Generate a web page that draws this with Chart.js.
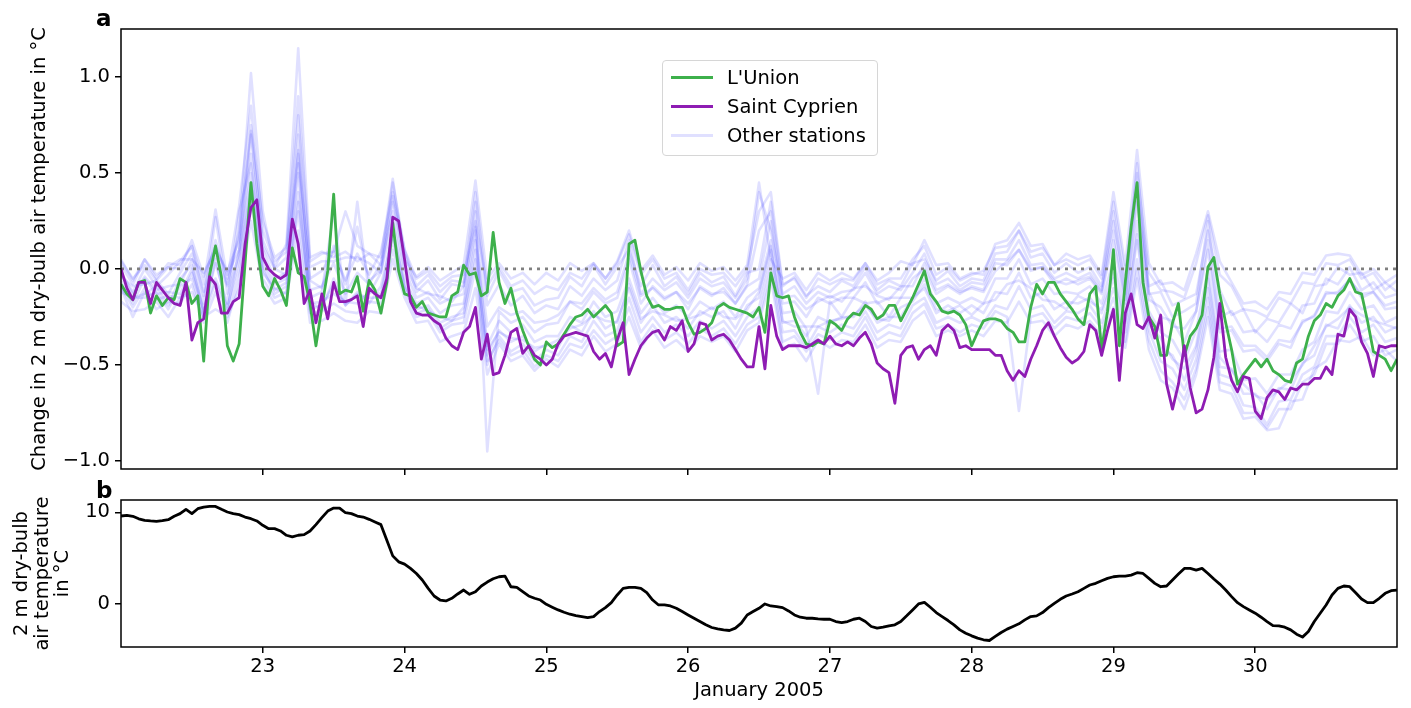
<!DOCTYPE html>
<html>
<head>
<meta charset="utf-8">
<script src="https://cdn.jsdelivr.net/npm/chart.js@4.4.1/dist/chart.umd.min.js"></script>
<style>
  html, body { margin: 0; padding: 0; background: #fff; }
  #wrap { position: relative; width: 1411px; height: 708px; font-family: 'DejaVu Sans', sans-serif; }
  #top { position: absolute; left: 0; top: 0; }
  #bottom { position: absolute; left: 0; top: 478px; }
  .panel { position: absolute; left: 96px; font-weight: bold; font-size: 23px; line-height: 26.8px; }
  #legend { position: absolute; left: 662px; top: 60px; width: 214px; height: 94px;
            border: 1px solid #d6d6d6; border-radius: 4px; background: rgba(255,255,255,0.8); }
  .row { position: absolute; left: 0; width: 100%; height: 0; }
  .sw { position: absolute; left: 8px; width: 42px; height: 3px; top: -1.5px; }
  .tx { position: absolute; left: 64px; top: -11px; font-size: 19.5px; line-height: 22.7px; white-space: nowrap; }
</style>
</head>
<body>
<div id="wrap">
  <canvas id="top" width="1411" height="490"></canvas>
  <canvas id="bottom" width="1411" height="230"></canvas>
  <div class="panel" style="top:5px">a</div>
  <div class="panel" style="top:477px">b</div>
  <div id="legend"></div>
</div>
<script>
const startDay = 22;
const dayTicks = [23, 24, 25, 26, 27, 28, 29, 30];
const changeTicks = [-1, -0.5, 0, 0.5, 1];
const tempTicks = [0, 10];

// hourly change at the two stations, 22 Jan 00:00 .. 31 Jan 00:00
const lUnion = [
  -0.08, -0.13, -0.16, -0.07, -0.06, -0.23, -0.14, -0.19, -0.15, -0.16, -0.05, -0.07, -0.18, -0.14, -0.48, -0.03, 0.12, -0.04, -0.40, -0.48, -0.39, 0.03, 0.45, 0.13,
  -0.09, -0.14, -0.05, -0.11, -0.19, 0.11, -0.02, -0.04, -0.18, -0.40, -0.20, -0.01, 0.39, -0.13, -0.11, -0.12, -0.04, -0.22, -0.06, -0.11, -0.23, -0.07, 0.24, -0.01,
  -0.13, -0.14, -0.20, -0.17, -0.23, -0.24, -0.25, -0.25, -0.14, -0.12, 0.02, -0.03, -0.02, -0.14, -0.12, 0.19, -0.07, -0.18, -0.10, -0.23, -0.32, -0.40, -0.47, -0.50,
  -0.38, -0.41, -0.39, -0.34, -0.29, -0.25, -0.24, -0.21, -0.25, -0.22, -0.19, -0.23, -0.40, -0.38, 0.13, 0.15, -0.01, -0.14, -0.20, -0.19, -0.21, -0.21, -0.20, -0.20,
  -0.28, -0.34, -0.33, -0.31, -0.28, -0.20, -0.18, -0.20, -0.21, -0.22, -0.23, -0.25, -0.20, -0.33, -0.02, -0.14, -0.15, -0.14, -0.25, -0.33, -0.39, -0.40, -0.38, -0.39,
  -0.27, -0.29, -0.32, -0.26, -0.23, -0.24, -0.19, -0.21, -0.26, -0.24, -0.19, -0.19, -0.27, -0.21, -0.15, -0.08, -0.01, -0.13, -0.17, -0.22, -0.23, -0.22, -0.24, -0.29,
  -0.40, -0.33, -0.27, -0.26, -0.26, -0.27, -0.31, -0.33, -0.38, -0.38, -0.20, -0.08, -0.13, -0.07, -0.07, -0.13, -0.17, -0.21, -0.26, -0.29, -0.13, -0.09, -0.42, -0.22,
  0.10, -0.40, -0.07, 0.22, 0.45, -0.07, -0.25, -0.30, -0.45, -0.45, -0.28, -0.18, -0.45, -0.35, -0.31, -0.24, 0.01, 0.06, -0.13, -0.28, -0.42, -0.60, -0.55, -0.51,
  -0.47, -0.51, -0.47, -0.53, -0.55, -0.58, -0.59, -0.49, -0.47, -0.35, -0.27, -0.24, -0.18, -0.20, -0.14, -0.11, -0.05, -0.12, -0.13, -0.27, -0.43, -0.45, -0.47, -0.53,
  -0.47
];
const saintCyprien = [
  0.00, -0.10, -0.16, -0.07, -0.07, -0.18, -0.07, -0.11, -0.15, -0.18, -0.19, -0.07, -0.37, -0.28, -0.26, -0.04, -0.08, -0.23, -0.23, -0.17, -0.15, 0.13, 0.32, 0.36,
  0.06, 0.00, -0.03, -0.05, -0.03, 0.26, 0.13, -0.18, -0.11, -0.28, -0.13, -0.26, -0.07, -0.17, -0.17, -0.16, -0.14, -0.30, -0.10, -0.13, -0.15, -0.05, 0.27, 0.25,
  0.05, -0.17, -0.23, -0.24, -0.24, -0.27, -0.29, -0.36, -0.40, -0.42, -0.33, -0.30, -0.20, -0.47, -0.34, -0.55, -0.54, -0.45, -0.33, -0.31, -0.44, -0.40, -0.45, -0.47,
  -0.50, -0.47, -0.39, -0.35, -0.34, -0.33, -0.34, -0.35, -0.43, -0.47, -0.44, -0.51, -0.37, -0.28, -0.55, -0.47, -0.40, -0.36, -0.33, -0.32, -0.37, -0.30, -0.32, -0.27,
  -0.43, -0.39, -0.28, -0.29, -0.37, -0.35, -0.34, -0.37, -0.42, -0.47, -0.51, -0.51, -0.30, -0.52, -0.19, -0.35, -0.42, -0.40, -0.40, -0.40, -0.41, -0.39, -0.37, -0.39,
  -0.35, -0.39, -0.40, -0.38, -0.40, -0.36, -0.33, -0.39, -0.49, -0.52, -0.54, -0.70, -0.45, -0.41, -0.40, -0.47, -0.42, -0.40, -0.45, -0.32, -0.29, -0.32, -0.41, -0.40,
  -0.42, -0.42, -0.42, -0.42, -0.45, -0.45, -0.53, -0.58, -0.53, -0.56, -0.47, -0.40, -0.32, -0.28, -0.35, -0.41, -0.46, -0.49, -0.47, -0.43, -0.29, -0.32, -0.45, -0.32,
  -0.21, -0.58, -0.23, -0.13, -0.29, -0.31, -0.25, -0.36, -0.24, -0.60, -0.73, -0.60, -0.40, -0.62, -0.75, -0.73, -0.63, -0.46, -0.18, -0.46, -0.58, -0.64, -0.56, -0.57,
  -0.74, -0.78, -0.67, -0.63, -0.64, -0.68, -0.62, -0.63, -0.60, -0.60, -0.57, -0.57, -0.51, -0.55, -0.34, -0.35, -0.21, -0.25, -0.38, -0.44, -0.56, -0.40, -0.41, -0.40,
  -0.40
];

// hourly 2 m dry-bulb temperature (°C)
const airTemp = [
  9.6, 9.67, 9.57, 9.3, 9.13, 9.06, 9.02, 9.09, 9.2, 9.57, 9.86, 10.33, 9.86, 10.4, 10.58, 10.65, 10.65, 10.33, 10.04, 9.86, 9.75, 9.49, 9.31, 9.06,
  8.59, 8.22, 8.22, 7.97, 7.5, 7.32, 7.5, 7.57, 7.97, 8.66, 9.42, 10.14, 10.47, 10.47, 9.96, 9.86, 9.6, 9.49, 9.24, 8.95, 8.66, 6.96, 5.25, 4.6,
  4.35, 3.88, 3.33, 2.61, 1.7, 0.87, 0.43, 0.33, 0.62, 1.09, 1.52, 1.05, 1.34, 1.96, 2.39, 2.75, 2.97, 3.04, 1.88, 1.81, 1.34, 0.87, 0.62, 0.43,
  -0.04, -0.35, -0.65, -0.91, -1.12, -1.27, -1.38, -1.49, -1.38, -0.83, -0.4, 0.14, 0.98, 1.7, 1.81, 1.81, 1.7, 1.23, 0.43, -0.11, -0.11, -0.22, -0.47, -0.83,
  -1.2, -1.56, -1.92, -2.28, -2.57, -2.72, -2.83, -2.9, -2.64, -2.1, -1.2, -0.83, -0.47, 0.0, -0.22, -0.29, -0.4, -0.76, -1.2, -1.45, -1.56, -1.56, -1.63, -1.67,
  -1.67, -1.92, -2.03, -1.92, -1.67, -1.56, -1.92, -2.46, -2.64, -2.54, -2.39, -2.28, -1.92, -1.3, -0.65, 0.0, 0.18, -0.36, -0.94, -1.38, -1.81, -2.28, -2.83, -3.19,
  -3.48, -3.73, -3.91, -3.99, -3.55, -3.12, -2.75, -2.46, -2.17, -1.74, -1.38, -1.3, -0.94, -0.4, 0.07, 0.51, 0.87, 1.09, 1.34, 1.7, 2.07, 2.25, 2.54, 2.79,
  2.97, 3.04, 3.04, 3.15, 3.41, 3.33, 2.79, 2.25, 1.88, 1.96, 2.61, 3.26, 3.88, 3.88, 3.7, 3.88, 3.33, 2.72, 2.17, 1.52, 0.8, 0.14, -0.29, -0.65,
  -1.01, -1.45, -1.92, -2.36, -2.39, -2.54, -2.83, -3.3, -3.62, -3.01, -1.92, -1.01, -0.11, 0.98, 1.7, 1.96, 1.88, 1.23, 0.54, 0.14, 0.14, 0.62, 1.16, 1.45,
  1.52
];

// remaining stations, every 2 hours
const stationA = [
  -0.02, -0.12, 0.00, -0.09, -0.03, 0.04, 0.12, -0.14, 0.08, -0.09, 0.18, 1.02,
  0.30, 0.00, 0.06, 0.60, -0.05, -0.01, 0.09, -0.06, 0.08, -0.03, 0.09, 0.40,
  0.10, -0.09, -0.03, -0.12, -0.06, -0.07, 0.40, -0.14, -0.01, -0.12, -0.10, -0.19,
  -0.16, -0.15, -0.04, -0.09, 0.02, -0.08, 0.01, 0.10, -0.09, 0.02, -0.09, -0.04,
  -0.13, -0.02, -0.07, -0.04, -0.14, -0.02, 0.00, 0.35, -0.09, -0.04, -0.14, -0.09,
  -0.12, -0.06, -0.09, 0.01, -0.11, -0.06, -0.09, 0.03, 0.05, -0.06, -0.01, -0.09,
  -0.05, -0.06, 0.08, 0.09, 0.20, 0.06, 0.08, -0.02, 0.03, -0.02, 0.01, -0.09,
  0.25, -0.08, 0.45, -0.09, -0.06, -0.19, -0.16, -0.13, 0.20, -0.11, -0.24, -0.21,
  -0.33, -0.26, -0.28, -0.18, -0.23, -0.09, -0.08, 0.01, -0.03, -0.02, -0.11, -0.07,
  -0.12
];
const stationB = [
  0.04, -0.05, 0.02, -0.06, 0.01, 0.00, 0.15, -0.04, 0.12, -0.03, 0.10, 0.70,
  0.15, 0.01, 0.13, 1.15, 0.06, 0.09, 0.06, 0.09, 0.04, 0.08, 0.06, 0.47,
  0.05, -0.04, 0.01, -0.06, -0.02, 0.02, 0.46, -0.05, 0.03, -0.05, -0.02, -0.08,
  -0.02, -0.06, 0.03, -0.01, 0.03, -0.05, 0.04, 0.20, -0.01, 0.07, -0.03, 0.01,
  -0.06, 0.03, -0.01, 0.01, -0.06, 0.02, 0.45, 0.05, -0.05, -0.02, -0.11, -0.02,
  -0.06, -0.02, -0.05, 0.03, -0.06, -0.02, 0.04, 0.02, 0.15, 0.02, 0.03, -0.05,
  -0.02, -0.03, 0.13, 0.15, 0.24, 0.12, 0.13, 0.02, 0.08, 0.05, 0.07, -0.03,
  0.40, 0.02, 0.62, 0.03, -0.08, -0.07, -0.11, 0.08, 0.30, 0.04, -0.07, -0.18,
  -0.17, -0.21, -0.12, -0.13, -0.02, -0.03, 0.07, 0.08, 0.07, -0.03, 0.00, -0.07,
  -0.03
];
const stationC = [
  -0.03, -0.13, -0.04, -0.11, -0.09, -0.08, 0.05, -0.18, 0.27, -0.13, 0.08, 0.60,
  0.10, -0.05, -0.02, 0.70, -0.11, -0.09, 0.03, -0.13, -0.02, -0.08, 0.03, 0.30,
  0.00, -0.15, -0.12, -0.18, -0.15, -0.13, 0.30, -0.95, -0.22, -0.28, -0.25, -0.33,
  -0.29, -0.28, -0.17, -0.21, -0.12, -0.18, -0.15, 0.05, -0.18, -0.09, -0.15, -0.12,
  -0.21, -0.09, -0.13, -0.12, -0.18, -0.09, -0.05, 0.25, -0.18, -0.17, -0.25, -0.15,
  -0.18, -0.15, -0.15, -0.07, -0.18, -0.15, -0.15, -0.05, 0.00, -0.13, -0.09, -0.13,
  -0.09, -0.11, 0.03, 0.02, 0.10, -0.01, 0.01, -0.08, -0.05, -0.08, -0.05, -0.13,
  0.15, -0.18, 0.35, -0.12, -0.25, -0.27, -0.38, -0.22, 0.10, -0.33, -0.32, -0.43,
  -0.42, -0.48, -0.39, -0.41, -0.27, -0.25, -0.12, -0.13, -0.05, -0.15, -0.12, -0.21,
  -0.20
];
const stationD = [
  -0.06, -0.18, -0.05, -0.13, -0.12, -0.13, 0.00, -0.21, 0.03, -0.18, 0.30, 0.55,
  0.05, -0.08, -0.05, 0.55, -0.15, -0.12, 0.30, -0.18, 0.35, -0.13, -0.02, 0.25,
  -0.05, -0.18, -0.15, -0.23, -0.19, -0.18, 0.20, -0.40, -0.27, -0.33, -0.29, -0.38,
  -0.35, -0.35, -0.25, -0.28, -0.17, -0.25, -0.22, -0.05, -0.23, -0.15, -0.23, -0.19,
  -0.25, -0.17, -0.21, -0.17, -0.25, -0.15, -0.10, 0.15, -0.23, -0.22, -0.31, -0.65,
  -0.17, -0.25, -0.15, -0.18, -0.17, -0.25, -0.15, -0.15, -0.05, -0.18, -0.15, -0.18,
  -0.15, -0.18, -0.05, -0.05, 0.05, -0.08, -0.05, -0.13, -0.12, -0.13, -0.09, -0.18,
  0.05, -0.23, 0.25, -0.22, -0.33, -0.37, -0.48, -0.32, 0.00, -0.43, -0.42, -0.58,
  -0.57, -0.65, -0.55, -0.55, -0.42, -0.38, -0.22, -0.23, -0.12, -0.21, -0.19, -0.28,
  -0.25
];
const stationE = [
  -0.12, -0.15, -0.15, -0.12, -0.21, -0.09, -0.05, -0.25, -0.07, -0.23, 0.00, 0.45,
  0.00, -0.13, -0.09, 0.40, -0.18, -0.17, -0.13, -0.17, -0.18, -0.12, -0.13, 0.20,
  -0.08, -0.21, -0.19, -0.28, -0.25, -0.23, 0.05, -0.45, -0.32, -0.38, -0.35, -0.43,
  -0.39, -0.41, -0.29, -0.33, -0.22, -0.31, -0.27, -0.10, -0.28, -0.19, -0.28, -0.25,
  -0.31, -0.22, -0.25, -0.22, -0.31, -0.19, -0.15, 0.10, -0.28, -0.27, -0.35, -0.25,
  -0.28, -0.25, -0.25, -0.17, -0.28, -0.25, -0.25, -0.15, -0.10, -0.23, -0.19, -0.23,
  -0.19, -0.23, -0.12, -0.13, -0.02, -0.15, -0.12, -0.21, -0.17, -0.18, -0.15, -0.23,
  -0.05, -0.28, 0.15, -0.27, -0.41, -0.45, -0.58, -0.42, -0.10, -0.51, -0.52, -0.65,
  -0.65, -0.73, -0.62, -0.63, -0.49, -0.45, -0.29, -0.31, -0.19, -0.28, -0.25, -0.33,
  -0.30
];
const stationF = [
  -0.10, -0.25, -0.12, -0.21, -0.17, -0.18, -0.08, -0.28, -0.12, -0.28, -0.05, 0.35,
  -0.05, -0.15, -0.12, 0.30, -0.23, -0.22, -0.18, -0.22, -0.23, -0.17, -0.18, 0.10,
  -0.12, -0.25, -0.23, -0.33, -0.29, -0.28, 0.00, -0.50, -0.35, -0.43, -0.39, -0.48,
  -0.42, -0.45, -0.35, -0.38, -0.27, -0.35, -0.32, -0.15, -0.33, -0.25, -0.33, -0.29,
  -0.35, -0.27, -0.31, -0.27, -0.35, -0.25, -0.20, 0.05, -0.33, -0.32, -0.41, -0.30,
  -0.33, -0.29, -0.31, -0.22, -0.33, -0.29, -0.31, -0.19, -0.15, -0.28, -0.25, -0.28,
  -0.25, -0.28, -0.19, -0.21, -0.09, -0.21, -0.19, -0.28, -0.22, -0.23, -0.19, -0.28,
  -0.10, -0.33, 0.05, -0.32, -0.48, -0.52, -0.63, -0.47, -0.15, -0.55, -0.57, -0.71,
  -0.72, -0.81, -0.69, -0.68, -0.55, -0.51, -0.35, -0.35, -0.25, -0.33, -0.29, -0.38,
  -0.36
];
const stationG = [
  -0.17, -0.22, -0.21, -0.17, -0.25, -0.15, -0.12, -0.25, -0.21, -0.25, -0.10, 0.25,
  -0.08, -0.18, -0.15, 0.20, -0.28, -0.27, -0.23, -0.27, -0.28, -0.22, -0.23, 0.05,
  -0.15, -0.28, -0.27, -0.38, -0.35, -0.33, -0.10, -0.55, -0.39, -0.48, -0.45, -0.53,
  -0.47, -0.51, -0.42, -0.45, -0.35, -0.43, -0.39, -0.25, -0.41, -0.32, -0.41, -0.37,
  -0.43, -0.35, -0.38, -0.35, -0.43, -0.32, -0.28, -0.05, -0.41, -0.39, -0.48, -0.37,
  -0.41, -0.37, -0.38, -0.29, -0.41, -0.37, -0.38, -0.27, -0.22, -0.35, -0.32, -0.35,
  -0.32, -0.35, -0.27, -0.28, -0.17, -0.28, -0.27, -0.35, -0.29, -0.31, -0.27, -0.35,
  -0.20, -0.41, -0.05, -0.42, -0.58, -0.62, -0.73, -0.55, -0.25, -0.63, -0.65, -0.78,
  -0.77, -0.84, -0.83, -0.69, -0.68, -0.52, -0.48, -0.37, -0.38, -0.35, -0.45, -0.42,
  -0.48
];
const stationH = [
  0.02, -0.08, 0.05, -0.05, 0.03, 0.02, 0.12, -0.08, 0.31, -0.05, 0.33, 0.85,
  0.20, 0.04, 0.09, 0.80, 0.01, 0.04, 0.04, 0.06, 0.06, 0.03, -0.02, 0.35,
  0.08, -0.12, -0.06, -0.16, -0.08, -0.09, 0.35, -0.19, -0.08, -0.19, -0.14, -0.23,
  -0.19, -0.21, -0.09, -0.14, -0.05, -0.11, -0.06, 0.15, -0.13, -0.05, -0.11, -0.07,
  -0.15, -0.05, -0.09, -0.07, -0.15, -0.05, 0.40, 0.20, -0.13, -0.09, -0.18, -0.12,
  -0.15, -0.12, -0.11, -0.02, -0.13, -0.09, -0.11, -0.02, 0.08, -0.08, -0.05, -0.11,
  -0.07, -0.08, 0.05, 0.05, 0.15, 0.02, 0.03, -0.05, -0.02, -0.05, -0.02, -0.11,
  0.30, -0.13, 0.55, -0.13, -0.12, -0.25, -0.22, -0.18, 0.25, -0.25, -0.22, -0.33,
  -0.32, -0.38, -0.29, -0.31, -0.19, -0.18, -0.05, -0.08, 0.01, -0.11, -0.07, -0.15,
  -0.13
];
const stationI = [
  -0.10, -0.15, -0.13, -0.09, -0.19, -0.05, 0.02, -0.23, 0.05, -0.21, 0.10, 0.50,
  0.02, -0.11, -0.07, 0.50, -0.21, -0.19, -0.08, -0.19, -0.13, -0.15, -0.15, 0.15,
  -0.10, -0.23, -0.21, -0.31, -0.27, -0.25, 0.10, -0.48, -0.37, -0.45, -0.42, -0.51,
  -0.45, -0.48, -0.39, -0.41, -0.32, -0.39, -0.35, -0.20, -0.38, -0.29, -0.37, -0.33,
  -0.39, -0.31, -0.35, -0.31, -0.39, -0.29, -0.25, 0.00, -0.38, -0.35, -0.43, -0.34,
  -0.37, -0.33, -0.35, -0.25, -0.37, -0.33, -0.35, -0.23, -0.18, -0.31, -0.29, -0.33,
  -0.29, -0.31, -0.22, -0.25, -0.74, -0.25, -0.23, -0.31, -0.25, -0.27, -0.23, -0.31,
  -0.15, -0.38, 0.00, -0.37, -0.53, -0.59, -0.68, -0.52, -0.20, -0.59, -0.61, -0.75,
  -0.75, -0.83, -0.73, -0.73, -0.59, -0.55, -0.39, -0.39, -0.29, -0.38, -0.35, -0.45,
  -0.42
];
const stationJ = [
  0.05, -0.06, 0.05, -0.03, 0.01, 0.05, 0.05, -0.02, 0.10, -0.01, 0.15, 0.75,
  0.25, 0.06, 0.11, 0.90, 0.04, 0.08, 0.09, 0.30, 0.12, 0.08, 0.02, 0.45,
  0.10, -0.05, -0.01, -0.09, -0.04, -0.03, 0.25, -0.09, 0.01, -0.09, -0.06, -0.13,
  -0.09, -0.11, -0.02, -0.05, 0.03, -0.05, 0.03, 0.18, -0.03, 0.05, -0.05, -0.02,
  -0.11, 0.00, -0.03, -0.02, -0.09, 0.00, 0.30, 0.40, -0.08, -0.05, -0.15, -0.05,
  -0.08, -0.05, -0.06, 0.03, -0.08, -0.05, -0.05, 0.05, 0.12, -0.03, 0.01, -0.06,
  -0.03, -0.01, 0.11, 0.12, 0.20, 0.09, 0.11, 0.02, 0.05, 0.02, 0.05, -0.05,
  0.35, -0.03, 0.50, -0.02, -0.11, -0.12, -0.15, 0.03, 0.28, -0.03, -0.09, -0.21,
  -0.22, -0.25, -0.15, -0.18, -0.07, -0.08, 0.03, 0.02, 0.05, -0.05, -0.02, -0.11,
  -0.06
];
const stationK = [
  -0.04, -0.09, -0.08, -0.06, -0.13, -0.02, 0.08, -0.12, 0.15, -0.08, 0.20, 0.72,
  0.12, 0.00, -0.03, 0.62, -0.06, -0.10, 0.12, -0.08, 0.22, -0.06, -0.01, 0.38,
  0.02, -0.10, -0.13, -0.14, -0.17, -0.09, 0.22, -0.30, -0.20, -0.24, -0.22, -0.28,
  -0.27, -0.24, -0.17, -0.18, -0.10, -0.16, -0.12, 0.08, -0.14, -0.10, -0.16, -0.12,
  -0.18, -0.10, -0.14, -0.10, -0.18, -0.08, 0.20, 0.30, -0.15, -0.14, -0.21, -0.17,
  -0.14, -0.17, -0.10, -0.09, -0.14, -0.16, -0.09, -0.09, 0.03, -0.11, -0.08, -0.12,
  -0.10, -0.12, -0.01, 0.04, 0.10, 0.00, 0.01, -0.06, -0.08, -0.06, -0.04, -0.12,
  0.20, -0.16, 0.40, -0.16, -0.20, -0.30, -0.31, -0.22, 0.15, -0.31, -0.30, -0.40,
  -0.40, -0.46, -0.37, -0.38, -0.28, -0.24, -0.13, -0.12, -0.06, -0.13, -0.12, -0.19,
  -0.17
];
const stationL = [
  -0.09, -0.20, -0.10, -0.16, -0.14, -0.15, -0.02, -0.22, -0.05, -0.20, 0.05, 0.40,
  -0.02, -0.10, -0.13, 0.35, -0.17, -0.21, -0.05, -0.19, -0.12, -0.18, -0.09, 0.18,
  -0.09, -0.19, -0.22, -0.25, -0.27, -0.20, 0.15, -0.42, -0.33, -0.36, -0.37, -0.41,
  -0.40, -0.37, -0.31, -0.29, -0.24, -0.27, -0.28, -0.08, -0.26, -0.22, -0.24, -0.27,
  -0.26, -0.24, -0.20, -0.25, -0.26, -0.21, -0.12, 0.12, -0.27, -0.30, -0.30, -0.30,
  -0.27, -0.26, -0.24, -0.19, -0.26, -0.27, -0.20, -0.17, -0.08, -0.21, -0.22, -0.19,
  -0.24, -0.18, -0.16, -0.08, -0.06, -0.10, -0.16, -0.17, -0.21, -0.14, -0.17, -0.21,
  -0.02, -0.27, 0.18, -0.29, -0.36, -0.47, -0.52, -0.40, -0.05, -0.46, -0.53, -0.60,
  -0.66, -0.68, -0.63, -0.58, -0.50, -0.40, -0.30, -0.26, -0.20, -0.24, -0.27, -0.29,
  -0.31
];
const otherStations = [stationA, stationB, stationC, stationD, stationE, stationF,
                       stationG, stationH, stationI, stationJ, stationK, stationL];

const unionColor = '#3db04b';
const cyprienColor = '#8e1cb3';
const otherColor = 'rgba(0, 0, 255, 0.12)';

Chart.defaults.font.family = "'DejaVu Sans', sans-serif";
Chart.defaults.font.size = 19.5;
Chart.defaults.color = '#000';

function toPoints(vals, stepHours) {
  return vals.map((v, i) => ({ x: startDay + i * stepHours / 24, y: v }));
}

function fixTicks(values) {
  return scale => { scale.ticks = values.map(v => ({ value: v })); };
}

const minus = v => String(v).replace('-', '\u2212');

// axes box drawn on all four sides
const frame = {
  id: 'frame',
  afterDraw(chart) {
    const { ctx, chartArea: a } = chart;
    ctx.save();
    ctx.strokeStyle = '#000';
    ctx.lineWidth = 1.5;
    ctx.strokeRect(a.left, a.top, a.right - a.left, a.bottom - a.top);
    ctx.restore();
  }
};

const tickGrid = { drawOnChartArea: false, drawTicks: true, tickLength: 6, color: '#000', lineWidth: 1.5 };

const otherSets = otherStations.map(s => ({
  label: 'Other stations',
  data: toPoints(s, 2),
  borderColor: otherColor,
  borderWidth: 2.6,
  order: 3
}));

new Chart(document.getElementById('top'), {
  type: 'line',
  data: {
    datasets: [
      { label: 'Saint Cyprien', data: toPoints(saintCyprien, 1), borderColor: cyprienColor, borderWidth: 2.8, order: 0 },
      { label: "L'Union", data: toPoints(lUnion, 1), borderColor: unionColor, borderWidth: 2.8, order: 1 },
      { label: 'zero', data: [{ x: 22, y: 0 }, { x: 31, y: 0 }], borderColor: '#808080', borderWidth: 2.8, borderDash: [3, 5], borderCapStyle: 'butt', order: 2 },
      ...otherSets
    ]
  },
  options: {
    responsive: false,
    animation: false,
    layout: { padding: { top: 29, right: 14, bottom: 0, left: 0 } },
    plugins: { legend: { display: false }, tooltip: { enabled: false } },
    elements: { point: { radius: 0 }, line: { tension: 0, borderJoinStyle: 'round' } },
    scales: {
      x: {
        type: 'linear', min: 22, max: 31,
        afterBuildTicks: fixTicks(dayTicks),
        afterFit: s => { s.height = 21; },
        ticks: { display: false },
        grid: tickGrid,
        border: { display: false }
      },
      y: {
        min: -1.042, max: 1.25,
        afterBuildTicks: fixTicks(changeTicks),
        afterFit: s => { s.width = 121; },
        ticks: { padding: 5, callback: v => minus(v.toFixed(1)) },
        grid: tickGrid,
        border: { display: false },
        title: {
          display: true,
          text: 'Change in 2 m dry-bulb air temperature in °C',
          padding: { top: 28, bottom: 0 }
        }
      }
    }
  },
  plugins: [frame]
});

new Chart(document.getElementById('bottom'), {
  type: 'line',
  data: {
    datasets: [
      { label: 'Temperature', data: toPoints(airTemp, 1), borderColor: '#000', borderWidth: 2.8 }
    ]
  },
  options: {
    responsive: false,
    animation: false,
    layout: { padding: { top: 22, right: 14, bottom: 0, left: 0 } },
    plugins: { legend: { display: false }, tooltip: { enabled: false } },
    elements: { point: { radius: 0 }, line: { tension: 0, borderJoinStyle: 'round' } },
    scales: {
      x: {
        type: 'linear', min: 22, max: 31,
        afterBuildTicks: fixTicks(dayTicks),
        afterFit: s => { s.height = 61; },
        ticks: { padding: 2, callback: v => String(v) },
        grid: tickGrid,
        border: { display: false },
        title: { display: true, text: 'January 2005', padding: { top: 0, bottom: 5 } }
      },
      y: {
        min: -4.7, max: 11.35,
        afterBuildTicks: fixTicks(tempTicks),
        afterFit: s => { s.width = 121; },
        ticks: { padding: 5, callback: v => minus(v) },
        grid: tickGrid,
        border: { display: false },
        title: {
          display: true,
          text: ['2 m dry-bulb', 'air temperature', 'in °C'],
          font: { lineHeight: 1.05 },
          padding: { top: 12, bottom: 0 }
        }
      }
    }
  },
  plugins: [frame]
});

// legend box
const legendItems = [
  { label: "L'Union", color: unionColor },
  { label: 'Saint Cyprien', color: cyprienColor },
  { label: 'Other stations', color: otherColor }
];
const legend = document.getElementById('legend');
legendItems.forEach((item, i) => {
  const row = document.createElement('div');
  row.className = 'row';
  row.style.top = (16.7 + i * 29) + 'px';
  row.innerHTML = '<div class="sw" style="background:' + item.color + '"></div><div class="tx">' + item.label + '</div>';
  legend.appendChild(row);
});
</script>
</body>
</html>
